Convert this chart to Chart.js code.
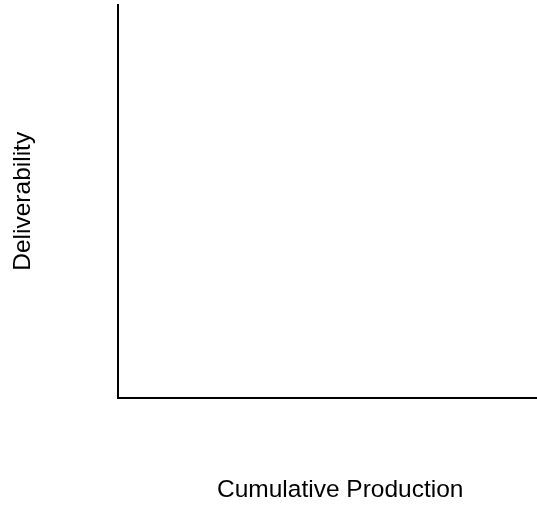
<!DOCTYPE html>
<html>
<head>
<meta charset="utf-8">
<script src="https://cdn.jsdelivr.net/npm/chart.js@4/dist/chart.umd.min.js"></script>
<style>
  html, body { margin: 0; padding: 0; background: #fff; overflow: hidden; }
  #wrap { width: 562px; height: 507px; }
</style>
</head>
<body>
<div id="wrap"><canvas id="chart" width="562" height="507"></canvas></div>
<script>
// the reference is an empty sketch: two axes, no marks
const cumulativeProduction = [];
const deliverability = [];
const xTitle = 'Cumulative Production';
const yTitle = 'Deliverability';

const points = cumulativeProduction.map((x, i) => ({ x: x, y: deliverability[i] }));

const titleFont = { family: 'Liberation Sans, Arial, sans-serif', size: 24.5, weight: 'normal' };

const ctx = document.getElementById('chart').getContext('2d');
const chart = new Chart(ctx, {
    type: 'scatter',
    data: {
        datasets: [{
            label: yTitle,
            data: points,
            borderColor: '#000',
            backgroundColor: '#000'
        }]
    },
    options: {
        responsive: false,
        animation: false,
        layout: { padding: { top: 5, left: 0, right: 0, bottom: 0 } },
        plugins: {
            legend: { display: false },
            tooltip: { enabled: false }
        },
        scales: {
            x: {
                type: 'linear',
                min: 0,
                max: 1,
                grid: { display: false },
                ticks: { display: false },
                border: { display: true, color: '#000', width: 2 },
                title: {
                    display: true,
                    text: xTitle,
                    color: '#000',
                    font: titleFont,
                    padding: { top: 70, bottom: 2 }
                }
            },
            y: {
                type: 'linear',
                min: 0,
                max: 1,
                grid: { display: false },
                ticks: { display: false },
                border: { display: true, color: '#000', width: 2 },
                title: {
                    display: true,
                    text: yTitle,
                    color: '#000',
                    font: titleFont,
                    padding: { top: 9, bottom: 72 }
                }
            }
        }
    }
});
</script>
</body>
</html>
